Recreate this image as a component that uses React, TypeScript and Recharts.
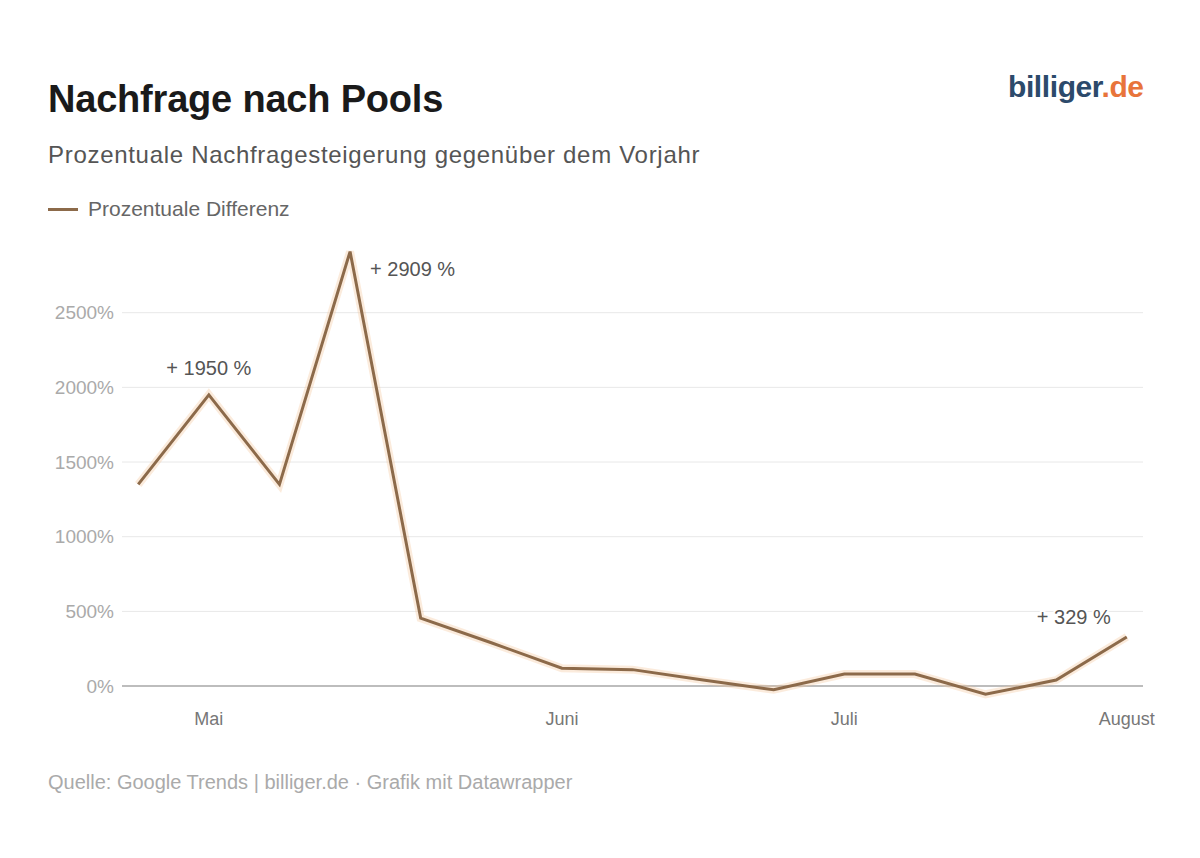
import React from "react";
import { LineChart, Line, XAxis, YAxis, ReferenceLine } from "recharts";

const weeks = [0, 1, 2, 3, 4, 5, 6, 7, 8, 9, 10, 11, 12, 13, 14];
const values = [1350, 1950, 1350, 2909, 455, 290, 120, 110, 40, -25, 80, 80, -55, 40, 329];
const annotations: Record<number, string> = { 1: "+ 1950 %", 3: "+ 2909 %", 14: "+ 329 %" };
const monthTicks = [1, 6, 10, 14];
const monthLabels = ["Mai", "Juni", "Juli", "August"];
const yTicks = [0, 500, 1000, 1500, 2000, 2500];
const gridValues = [500, 1000, 1500, 2000, 2500];

const data = weeks.map((w, i) => ({ w, v: values[i] }));

const FONT = "'Liberation Sans', Arial, sans-serif";

const renderLabel = (props: any) => {
  const { x, y, index } = props;
  const text = annotations[index];
  if (!text) return null;
  let tx = x, ty = y - 20, anchor: any = "middle";
  if (index === 3) { tx = x + 20; ty = y + 24; anchor = "start"; }
  if (index === 14) { tx = x - 16; ty = y - 13; anchor = "end"; }
  return (
    <text x={tx} y={ty} textAnchor={anchor} fontSize={20} fill="#555" fontFamily={FONT}
      stroke="#fff" strokeWidth={4} paintOrder="stroke">{text}</text>
  );
};

export default function App() {
  return (
    <div style={{ position: "absolute", left: 0, top: 0, width: 1200, height: 858, background: "#fff", fontFamily: FONT }}>
      <div style={{ position: "absolute", left: 48, top: 78, fontSize: 38, fontWeight: 700, color: "#1a1a1a", letterSpacing: -0.2 }}>
        Nachfrage nach Pools
      </div>
      <div style={{ position: "absolute", left: 1008, top: 70, fontSize: 30, fontWeight: 700, letterSpacing: -0.4 }}>
        <span style={{ color: "#2c4a6b" }}>billiger</span><span style={{ color: "#e8743b" }}>.de</span>
      </div>
      <div style={{ position: "absolute", left: 48, top: 141, fontSize: 24, color: "#555", letterSpacing: 0.7 }}>
        Prozentuale Nachfragesteigerung gegenüber dem Vorjahr
      </div>
      <div style={{ position: "absolute", left: 48, top: 197, fontSize: 21, color: "#666", display: "flex", alignItems: "center" }}>
        <span style={{ display: "inline-block", width: 30, height: 3, background: "#8c6a4a", marginRight: 10 }} />
        Prozentuale Differenz
      </div>
      <div style={{ position: "absolute", left: 0, top: 0 }}>
        <LineChart width={1200} height={858} data={data} margin={{ top: 238, right: 57, bottom: 127, left: 42 }}>
          <XAxis dataKey="w" type="number" domain={[-0.23, 14.23]} ticks={monthTicks}
            tickFormatter={(v: number) => monthLabels[monthTicks.indexOf(v)] ?? ""}
            axisLine={false} tickLine={false} tickSize={0} tickMargin={11} height={30}
            tick={{ fontSize: 18, fill: "#777", fontFamily: FONT }} allowDataOverflow />
          <YAxis type="number" domain={[-100, 3000]} ticks={yTicks} width={80}
            tickFormatter={(v: number) => `${v}%`} axisLine={false} tickLine={false} tickSize={0} tickMargin={8}
            tick={{ fontSize: 19, fill: "#aaa", fontFamily: FONT }} allowDataOverflow />
          {gridValues.map((g) => (
            <ReferenceLine key={g} y={g} stroke="#e8e8e8" strokeWidth={1} />
          ))}
          <ReferenceLine y={0} stroke="#bdbdbd" strokeWidth={2} />
          <Line type="linear" dataKey="v" stroke="#f3c79a" strokeWidth={8} strokeOpacity={0.35} dot={false} isAnimationActive={false} />
          <Line type="linear" dataKey="v" stroke="#8c6a4a" strokeWidth={3} dot={false} isAnimationActive={false} label={renderLabel} />
        </LineChart>
      </div>
      <div style={{ position: "absolute", left: 48, top: 771, fontSize: 20, color: "#aaa" }}>
        Quelle: Google Trends | billiger.de · Grafik mit Datawrapper
      </div>
    </div>
  );
}
